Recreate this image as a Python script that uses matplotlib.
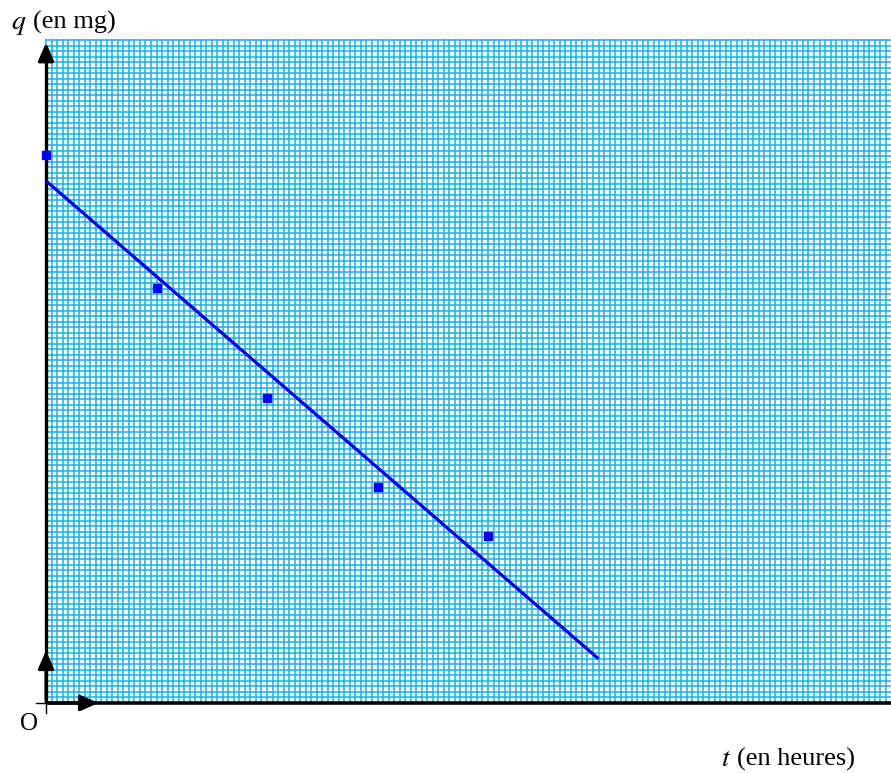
import matplotlib
matplotlib.use('Agg')
import matplotlib.pyplot as plt
import numpy as np

# measured points (t, q)
t_pts = [0, 2, 4, 6, 8]
q_pts = [9.92, 7.51, 5.52, 3.91, 3.02]

# fitted line
line_t = [0, 10]
line_q = [9.45, 0.80]

x_min, x_max = -0.833, 15.294
y_min, y_max = -1.267, 12.724
grid_top = 12
grid_step = 0.1

fig = plt.figure(figsize=(8.91, 7.73), dpi=100)
ax = fig.add_axes([0, 0, 1, 1])
ax.set_xlim(x_min, x_max)
ax.set_ylim(y_min, y_max)
ax.axis('off')

# millimetre paper
gcol = '#12b0ec'
for gx in np.arange(0, x_max, grid_step):
    ax.plot([gx, gx], [0, grid_top], color=gcol, lw=1.1, zorder=1)
for gy in np.arange(0, grid_top + 1e-9, grid_step):
    ax.plot([0, x_max], [gy, gy], color=gcol, lw=1.1, zorder=1)

# axes
ax.plot([0, x_max], [0, 0], color='k', lw=2.6, zorder=3, solid_capstyle='butt')
ax.plot([0, 0], [0, grid_top - 0.1], color='k', lw=2.4, zorder=3, solid_capstyle='butt')
arrow = dict(arrowstyle='-|>,head_length=0.5,head_width=0.22', color='k', lw=2.2, mutation_scale=22)
ax.annotate('', xy=(0, grid_top), xytext=(0, grid_top - 0.3), arrowprops=arrow, zorder=4)
ax.annotate('', xy=(0, 1), xytext=(0, 0), arrowprops=arrow, zorder=4)
ax.annotate('', xy=(1, 0), xytext=(0, 0), arrowprops=arrow, zorder=4)
ax.plot([-0.18, 0], [0, 0], color='k', lw=1, zorder=3)
ax.plot([0, 0], [-0.18, 0], color='k', lw=1, zorder=3)

# data and fit
ax.plot(line_t, line_q, color='#0000ee', lw=2.3, zorder=5, solid_capstyle='butt')
ax.plot(t_pts, q_pts, 's', color='#0000ff', ms=6.3, zorder=6)

font = 'Liberation Serif'
ax.text(-0.64, 12.2, r'$q$', fontsize=20, ha='left', va='baseline', math_fontfamily='stix')
ax.text(-0.24, 12.2, '(en mg)', fontsize=19, family=font, ha='left', va='baseline')
ax.text(-0.30, -0.48, 'O', fontsize=18, family=font, ha='center', va='baseline')
ax.text(12.22, -1.14, r'$t$', fontsize=20, ha='left', va='baseline', math_fontfamily='stix')
ax.text(12.5, -1.14, '(en heures)', fontsize=19, family=font, ha='left', va='baseline')

fig.savefig('out.png', dpi=100)
